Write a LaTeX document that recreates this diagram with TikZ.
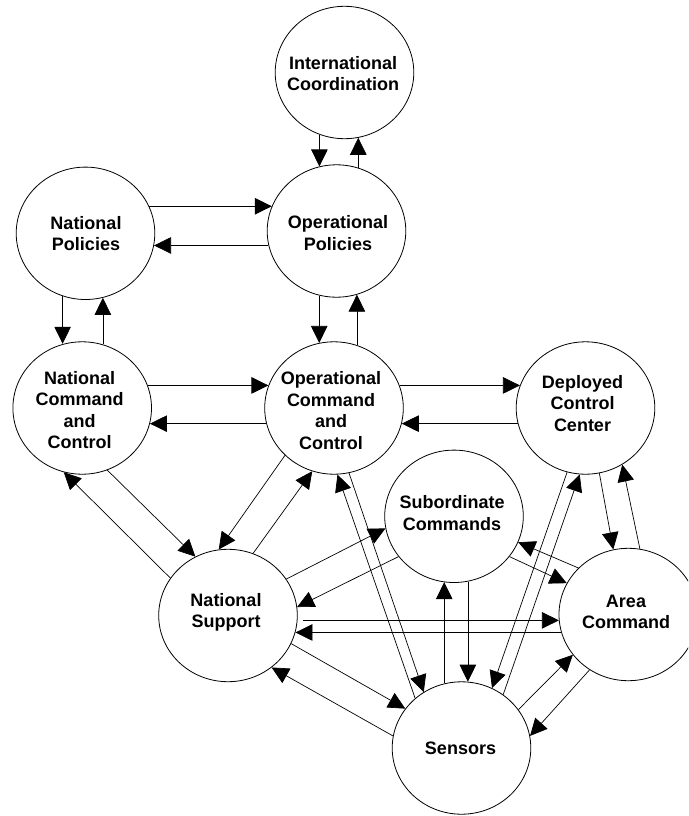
\documentclass[tikz,border=0pt]{standalone}
\usepackage{fontspec}
\setmainfont{Liberation Sans}
\usetikzlibrary{shapes.geometric,arrows.meta}
\begin{document}
\begin{tikzpicture}[x=1pt,y=-1pt,
  bub/.style={ellipse,draw,line width=0.8pt,minimum width=138.6pt,minimum height=132.4pt,inner sep=0pt},
  lbl/.style={font=\fontsize{18}{21.5}\selectfont\bfseries,align=center,inner sep=0pt},
  conn/.style={line width=0.7pt,-{Triangle[length=17pt,width=16.5pt]}}]
\clip (0,0) rectangle (688,816);
\fill[white] (0,0) rectangle (688,816);
% bubbles
\node[bub] (ic)  at (344.5,72.5) {};
\node[bub] (op)  at (336.5,231) {};
\node[bub] (np)  at (85.5,233.3) {};
\node[bub] (ncc) at (82.2,408) {};
\node[bub] (occ) at (334,408) {};
\node[bub] (dcc) at (585.5,408) {};
\node[bub] (sc)  at (454,516.3) {};
\node[bub] (ns)  at (228,615.5) {};
\node[bub] (ac)  at (628.3,614.5) {};
\node[bub] (s)   at (461.5,748) {};
% labels
\node[lbl] (ic-t)  at (343,73.5) {International\\Coordination};
\node[lbl] (op-t)  at (338,233) {Operational\\Policies};
\node[lbl] (np-t)  at (86,233.7) {National\\Policies};
\node[lbl] (ncc-t) at (79.7,410) {National\\Command\\and\\Control};
\node[lbl] (occ-t) at (331,410.5) {Operational\\Command\\and\\Control};
\node[lbl] (dcc-t) at (582.5,403.5) {Deployed\\Control\\Center};
\node[lbl] (sc-t)  at (452,513) {Subordinate\\Commands};
\node[lbl] (ns-t)  at (226,612.5) {National\\Support};
\node[lbl] (ac-t)  at (626,612) {Area\\Command};
\node[lbl] (s-t)   at (460.5,748) {Sensors};
% connectors
\draw[conn] (ic.248) -- (ic.248 |- op.105);
\draw[conn] (op.71) -- (op.71 |- ic.282);
\draw[conn] (np.23) -- (np.23 -| op.159);
\draw[conn] (op.192) -- (op.192 -| np.350);
\draw[conn] (np.250) -- (np.250 |- ncc.106);
\draw[conn] (ncc.72) -- (ncc.72 |- np.285);
\draw[conn] (op.255) -- (op.255 |- occ.103);
\draw[conn] (occ.70) -- (occ.70 |- op.288);
\draw[conn] (ncc.19) -- (ncc.19 -| occ.161);
\draw[conn] (occ.193) -- (occ.193 -| ncc.347);
\draw[conn] (occ.19) -- (occ.19 -| dcc.161);
\draw[conn] (dcc.193) -- (dcc.193 -| occ.347);
\draw[conn] (ncc.292) -- (ns.119);
\draw[conn] (ns.147) -- (ncc.254);
\draw[conn] (occ.224) -- (ns.98);
\draw[conn] (ns.68) -- (occ.251);
\draw[conn] (occ.283) -- (s.124);
\draw[conn] (s.133) -- (occ.273);
\draw[conn] (ns.32) -- (sc.190);
\draw[conn] (sc.216) -- (ns.7);
\draw[conn,shorten <=5pt] (ns.356) -- (ns.356 -| ac.185);
\draw[conn] (ac.195) -- (ac.195 -| ns.346);
\draw[conn] (ns.336) -- (s.145);
\draw[conn] (s.170) -- (ns.310);
\draw[conn] (s.105) -- (s.105 |- sc.261);
\draw[conn] (sc.282) -- (sc.282 |- s.84);
\draw[conn] (dcc.254) -- (s.63);
\draw[conn] (s.52) -- (dcc.265);
\draw[conn] (dcc.282) -- (ac.103);
\draw[conn] (ac.80) -- (dcc.303);
\draw[conn] (ac.137) -- (sc.338);
\draw[conn] (sc.324) -- (ac.153);
\draw[conn] (s.34) -- (ac.216);
\draw[conn] (ac.235) -- (s.10);
\end{tikzpicture}
\end{document}
